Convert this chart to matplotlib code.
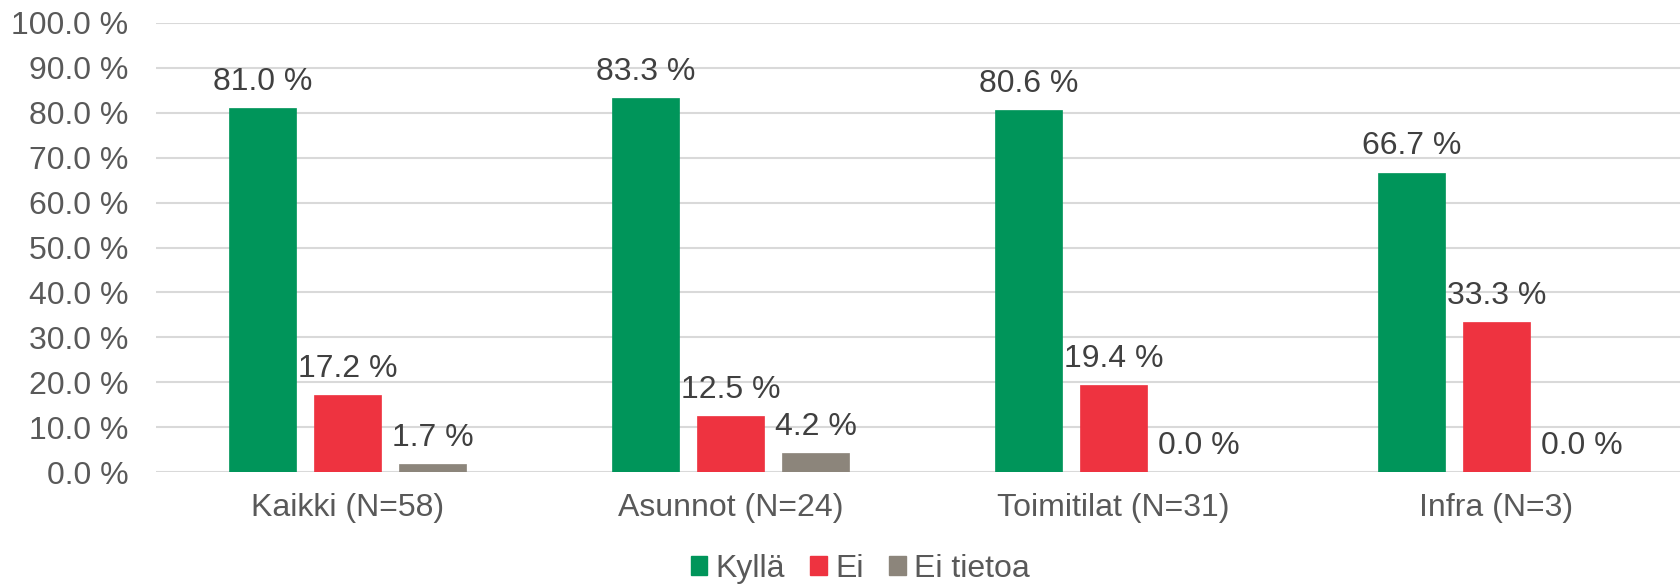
import matplotlib
matplotlib.use("Agg")
import matplotlib.pyplot as plt
from matplotlib.patches import Patch
import numpy as np

categories = ["Kaikki (N=58)", "Asunnot (N=24)", "Toimitilat (N=31)", "Infra (N=3)"]
series_names = ["Kyllä", "Ei", "Ei tietoa"]
kylla = [81.0, 83.3, 80.6, 66.7]
ei = [17.2, 12.5, 19.4, 33.3]
ei_tietoa = [1.7, 4.2, 0.0, 0.0]
yticks = [0, 10, 20, 30, 40, 50, 60, 70, 80, 90, 100]

colors = ["#00955A", "#EE3340", "#8C857B"]

plt.rcParams["font.family"] = ["Liberation Sans", "DejaVu Sans"]
fs = 23

W, H = 1680, 587
fig = plt.figure(figsize=(W / 100, H / 100), dpi=100)
left, right, top, bottom = 156, 1688, 23, 472
ax = fig.add_axes([left / W, 1 - bottom / H, (right - left) / W, (bottom - top) / H])

x = np.arange(len(categories))
step = 0.222
width = 0.175
series = [kylla, ei, ei_tietoa]
for i, (vals, col) in enumerate(zip(series, colors)):
    pos = x + (i - 1) * step
    ax.bar(pos, vals, width=width, color=col, edgecolor=col, linewidth=0.5, zorder=3)
    for xp, v in zip(pos, vals):
        ax.annotate(f"{v:.1f} %", (xp, v), xytext=(0, 13), textcoords="offset points",
                    ha="center", va="baseline", fontsize=fs, color="#404040")

ax.set_xlim(-0.5, len(categories) - 0.5)
ax.set_ylim(0, 100)
ax.set_yticks(yticks)
ax.set_yticklabels([f"{t:.1f} %" for t in yticks], fontsize=fs, color="#595959")
ax.set_xticks(x)
ax.set_xticklabels(categories, fontsize=fs, color="#595959")
ax.tick_params(axis="both", length=0)
ax.tick_params(axis="y", pad=20)
ax.tick_params(axis="x", pad=15)
ax.grid(axis="y", color="#D9D9D9", linewidth=1.5, zorder=0)
for s in ax.spines.values():
    s.set_visible(False)

handles = [Patch(facecolor=c, edgecolor=c, label=n) for c, n in zip(colors, series_names)]
fig.legend(handles=handles, loc="center", bbox_to_anchor=(860 / W, 1 - 569 / H), ncol=3,
           frameon=False, fontsize=fs, handlelength=0.52, handleheight=0.52,
           handletextpad=0.25, columnspacing=0.8, labelcolor="#595959")

fig.savefig("out.png", dpi=100)
